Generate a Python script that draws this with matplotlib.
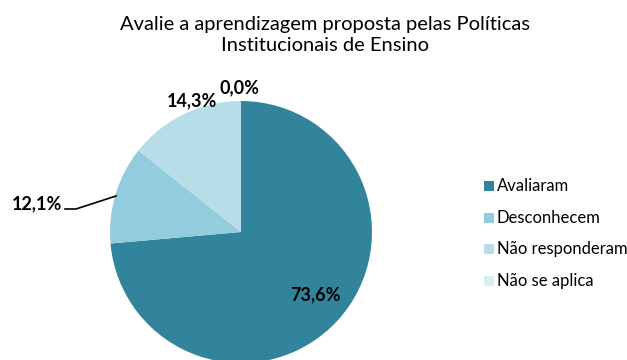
import matplotlib.pyplot as plt
from matplotlib.patches import Rectangle

plt.rcParams['font.family'] = ['Lato', 'DejaVu Sans']

categories = ['Avaliaram', 'Desconhecem', 'Não responderam', 'Não se aplica']
values = [73.6, 12.1, 14.3, 0.0]
colors = ['#31849B', '#93CDDD', '#B7DEE8', '#DBEEF4']
title = 'Avalie a aprendizagem proposta pelas Políticas\nInstitucionais de Ensino'

W, H = 627, 360
fig = plt.figure(figsize=(W / 100, H / 100), dpi=100)
ax = fig.add_axes([0, 0, 1, 1])

cx, cy, r = 241, H - 232, 131
ax.pie(values, colors=colors, startangle=90, counterclock=False,
       center=(cx, cy), radius=r, frame=True)
ax.set_xlim(0, W)
ax.set_ylim(0, H)
ax.set_aspect('equal')
ax.axis('off')

def pct(v):
    return f'{v:.1f}%'.replace('.', ',')

lbl = dict(fontsize=13, fontweight='bold', color='black', va='center')
ax.text(315, H - 295, pct(values[0]), ha='center', **lbl)
ax.text(37, H - 204, pct(values[1]), ha='center', **lbl)
ax.plot([65, 76, 116], [H - 209, H - 209, H - 196], color='black', lw=1.2)
ax.text(192, H - 101, pct(values[2]), ha='center', **lbl)
ax.text(240, H - 88, pct(values[3]), ha='center', **lbl)

ax.text(325, H - 35, title, ha='center', va='center', fontsize=14.5,
        color='#000000', linespacing=1.3)

for i, (name, c) in enumerate(zip(categories, colors)):
    y = H - (186 + i * 31.7)
    ax.add_patch(Rectangle((484, y - 5), 10, 10, facecolor=c, edgecolor='none'))
    ax.text(497, y, name, ha='left', va='center', fontsize=12, color='#000000')

fig.savefig('out.png', dpi=100)
